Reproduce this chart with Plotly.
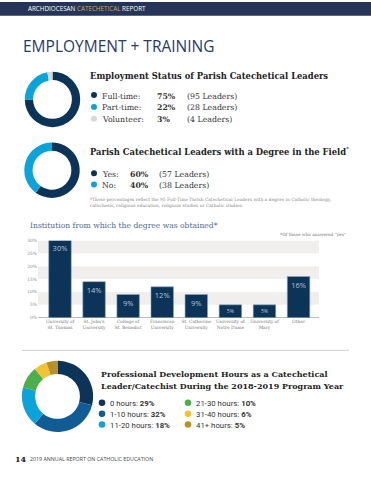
import plotly.graph_objects as go

W, H = 371, 480

# ---------------- data ----------------
emp_labels = ["Full-time:", "Part-time:", "Volunteer:"]
emp_pct = [75, 22, 3]
emp_counts = ["(95 Leaders)", "(28 Leaders)", "(4 Leaders)"]

deg_labels = ["Yes:", "No:"]
deg_pct = [60, 40]
deg_counts = ["(57 Leaders)", "(38 Leaders)"]

inst_names = ["University of<br>St. Thomas", "St. John's<br>University", "College of<br>St. Benedict",
              "Franciscan<br>University", "St. Catherine<br>University", "University of<br>Notre Dame",
              "University of<br>Mary", "Other"]
inst_pct = [30, 14, 9, 12, 9, 5, 5, 16]

pd_labels = ["0 hours:", "1-10 hours:", "11-20 hours:", "21-30 hours:", "31-40 hours:", "41+ hours:"]
pd_pct = [29, 32, 18, 10, 6, 5]

# ---------------- styles ----------------
NAVY = "#0c3358"
CYAN = "#0ba3da"
LGRAY = "#d8d8d4"
MBLUE = "#125c96"
GREEN = "#4cae4c"
YELLOW = "#f1c232"
GOLD = "#b8902b"
HEAD = "#253559"
SERIF = "DejaVu Serif"
SANS = "Open Sans"


def px(x):
    return x / W


def py(y):
    return 1 - y / H


def dom(cx, cy, r):
    return dict(x=[px(cx - r), px(cx + r)], y=[py(cy + r), py(cy - r)])


fig = go.Figure()

fig.add_trace(go.Pie(values=emp_pct, labels=emp_labels, hole=0.7, sort=False, direction="clockwise",
                     marker=dict(colors=[NAVY, CYAN, LGRAY]), textinfo="none", hoverinfo="label+percent",
                     domain=dom(52.5, 98.5, 28), showlegend=False))
fig.add_trace(go.Pie(values=deg_pct, labels=deg_labels, hole=0.7, sort=False, direction="clockwise",
                     marker=dict(colors=[NAVY, CYAN]), textinfo="none", hoverinfo="label+percent",
                     domain=dom(52, 170, 28), showlegend=False))
fig.add_trace(go.Pie(values=pd_pct, labels=pd_labels, hole=0.63, sort=False, direction="clockwise",
                     marker=dict(colors=[NAVY, MBLUE, CYAN, GREEN, YELLOW, GOLD]), textinfo="none",
                     hoverinfo="label+percent", domain=dom(57.5, 398.5, 36), showlegend=False))

fig.add_trace(go.Bar(x=list(range(len(inst_pct))), y=inst_pct, width=0.66,
                     marker=dict(color=NAVY, line=dict(color="#8fa3bd", width=0.6)),
                     text=[f"{v}%" for v in inst_pct], textposition="inside", insidetextanchor="end",
                     textfont=dict(family=SANS, size=7.5, color="#b9c4d6"), showlegend=False,
                     xaxis="x", yaxis="y", cliponaxis=False))

shapes = []
annotations = []

# header bar
shapes.append(dict(type="rect", xref="paper", yref="paper", x0=0, x1=1, y0=py(14), y1=1,
                   fillcolor=HEAD, line=dict(width=0), layer="below"))
annotations.append(dict(x=px(26), y=py(7), xref="paper", yref="paper", xanchor="left", yanchor="middle",
                        showarrow=False, font=dict(family=SANS, size=6.3, color="white"),
                        text="ARCHDIOCESAN <span style='color:#c9a75a'>CATECHETICAL</span> REPORT"))
annotations.append(dict(x=px(21), y=py(44), xref="paper", yref="paper", xanchor="left", yanchor="middle",
                        showarrow=False, font=dict(family=SANS, size=15.5, color="#2a3a60"),
                        text="EMPLOYMENT + TRAINING"))


def txt(x, y, s, size=8.5, color="#333333", family=SERIF, anchor="left"):
    annotations.append(dict(x=px(x), y=py(y), xref="paper", yref="paper", xanchor=anchor, yanchor="middle",
                            align=anchor, showarrow=False, text=s,
                            font=dict(family=family, size=size, color=color)))


def dot(x, y, color, r=3):
    shapes.append(dict(type="circle", xref="paper", yref="paper", x0=px(x - r), x1=px(x + r),
                       y0=py(y + r), y1=py(y - r), fillcolor=color, line=dict(width=0)))


# employment block
txt(88, 75, "<b>Employment Status of Parish Catechetical Leaders</b>", size=8.4, color="#222222")
emp_colors = [NAVY, CYAN, LGRAY]
for i, (lab, p, c) in enumerate(zip(emp_labels, emp_pct, emp_counts)):
    y = 95 + i * 12
    dot(94, y - 1, emp_colors[i])
    txt(100, y, lab, size=7.8)
    txt(155, y, f"<b>{p}%</b>", size=7.8)
    txt(185, y, c, size=7.8)

# degree block
txt(88, 151, "<b>Parish Catechetical Leaders with a Degree in the Field</b><sup>*</sup>", size=8.4, color="#222222")
deg_colors = [NAVY, CYAN]
for i, (lab, p, c) in enumerate(zip(deg_labels, deg_pct, deg_counts)):
    y = 174 + i * 11.5
    dot(94, y - 1, deg_colors[i])
    txt(100, y, lab, size=7.8)
    txt(128, y, f"<b>{p}%</b>", size=7.8)
    txt(157, y, c, size=7.8)
txt(88, 203, "*These percentages reflect the 95 Full-Time Parish Catechetical Leaders with a degree in Catholic theology,<br>"
             "catechesis, religious education, religious studies or Catholic studies.", size=4.4, color="#888888")

txt(28, 226, "Institution from which the degree was obtained*", size=7.6, color="#4d6b8c")
txt(348, 235, "*Of those who answered \"yes\"", size=4.3, color="#777777", anchor="right")

# bar grid bands
for lo, hi in [(5, 10), (15, 20), (25, 30)]:
    shapes.append(dict(type="rect", xref="paper", yref="y", x0=px(38), x1=px(319), y0=lo, y1=hi,
                       fillcolor="#f0efed", line=dict(width=0), layer="below"))

# separator
shapes.append(dict(type="line", xref="paper", yref="paper", x0=px(22), x1=px(349), y0=py(352), y1=py(352),
                   line=dict(color="#cfcfcf", width=1)))

# professional development block
txt(99, 376, "<b>Professional Development Hours as a Catechetical</b>", size=8.0, color="#222222")
txt(99, 388, "<b>Leader/Catechist During the 2018-2019 Program Year</b>", size=8.0, color="#222222")
pd_colors = [NAVY, MBLUE, CYAN, GREEN, YELLOW, GOLD]
for i, (lab, p) in enumerate(zip(pd_labels, pd_pct)):
    col, row = divmod(i, 3)
    x = 102 if col == 0 else 188
    y = 406 + row * 11
    dot(x, y - 1, pd_colors[i], r=3.3)
    txt(x + 6, y, f"{lab} <b>{p}%</b>", size=7.8, color="#333333", family="Roboto")

# footer
txt(13, 462, "<b>14</b>", size=8, color="#222222")
txt(28, 462, "2019 ANNUAL REPORT ON CATHOLIC EDUCATION", size=5.3, color="#444444", family=SANS)

fig.update_layout(
    width=W, height=H, margin=dict(l=0, r=0, t=0, b=0), paper_bgcolor="white", plot_bgcolor="white",
    shapes=shapes, annotations=annotations, bargap=0.3,
    xaxis=dict(domain=[px(38), px(319)], range=[-0.645, 7.6], tickmode="array",
               tickvals=list(range(len(inst_names))), ticktext=inst_names, showgrid=False, zeroline=False,
               showline=False, ticks="", tickfont=dict(family=SERIF, size=4.4, color="#777777"), tickangle=0),
    yaxis=dict(domain=[py(319), py(241)], range=[0, 30], dtick=5, ticksuffix="%", showgrid=False,
               zeroline=True, zerolinecolor="#bbbbbb", zerolinewidth=1, showline=False,
               tickfont=dict(family=SERIF, size=4.4, color="#888888"), ticklen=0),
)

fig.write_html("out.html", config={"displayModeBar": False},
               post_script="document.body.style.margin='0';document.body.style.overflow='hidden';")
